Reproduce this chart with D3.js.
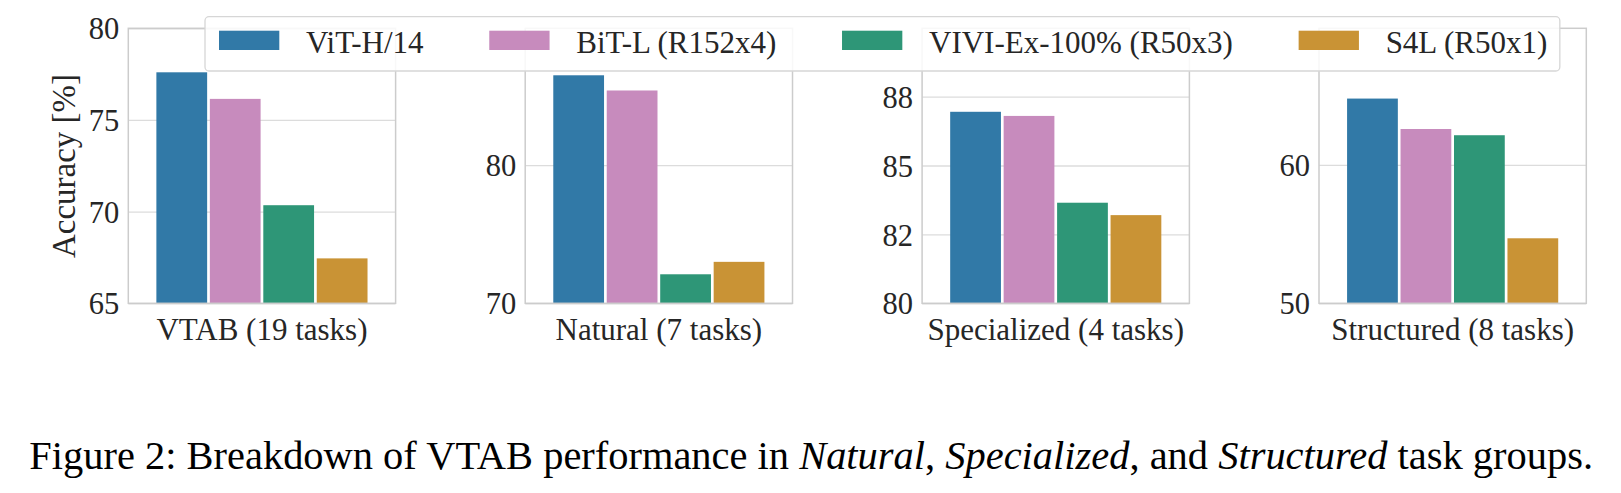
<!DOCTYPE html>
<html>
<head>
<meta charset="utf-8">
<script src="https://cdn.jsdelivr.net/npm/d3@7"></script>
<style>
  html, body { margin: 0; padding: 0; background: #fff; }
  svg { display: block; }
</style>
</head>
<body>
<svg id="chart" width="1621" height="493"></svg>
<script>
// ---- data ----
const categories = ["VTAB (19 tasks)", "Natural (7 tasks)", "Specialized (4 tasks)", "Structured (8 tasks)"];
const models = ["ViT-H/14", "BiT-L (R152x4)", "VIVI-Ex-100% (R50x3)", "S4L (R50x1)"];
const vitH14   = [77.6, 86.5, 86.95, 64.8];
const bitL     = [76.15, 85.4, 86.8, 62.6];
const viviEx   = [70.35, 72.1, 83.65, 62.15];
const s4l      = [67.45, 73.0, 83.2, 54.7];
const seriesValues = [vitH14, bitL, viviEx, s4l];
const yDomains = [[65, 80], [70, 89.9], [80, 89.98], [50, 69.88]];
const yTicks = [[65, 70, 75, 80], [70, 80], [80, 82.5, 85, 87.5], [50, 60]];
const yTickLabels = [["65", "70", "75", "80"], ["70", "80"], ["80", "82", "85", "88"], ["50", "60"]];
const colors = ["#3179a7", "#c78bbd", "#2e9677", "#c99335"];
const yLabel = "Accuracy [%]";

// ---- layout ----
const FONT = "'Liberation Serif', 'Times New Roman', serif";
const svg = d3.select("#chart");
const panelLeft = 128.3, panelStep = 396.9, panelW = 267.3;
const plotTop = 28.3, plotBottom = 303.3;
const textColor = "#262626";
const fs = 31;

categories.forEach((cat, i) => {
  const left = panelLeft + i * panelStep;
  const g = svg.append("g");
  const y = d3.scaleLinear().domain(yDomains[i]).range([plotBottom, plotTop]);
  const x = d3.scaleBand().domain(models).range([left + 0.1 * panelW, left + 0.9 * panelW]).padding(0);

  const axis = d3.axisLeft(y).tickValues(yTicks[i])
    .tickFormat((d, k) => yTickLabels[i][k])
    .tickSizeInner(-panelW).tickSizeOuter(0).tickPadding(9);
  const ag = g.append("g").attr("transform", `translate(${left},0)`).call(axis);
  ag.select(".domain").remove();
  ag.selectAll(".tick line").attr("stroke", "#dcdcdc").attr("stroke-width", 1.3);
  ag.selectAll(".tick text").attr("fill", textColor)
    .style("font-family", FONT).style("font-size", "30.5px").attr("dy", "0.35em");

  const gap = 1.35;
  g.selectAll("rect.bar").data(models).join("rect")
    .attr("class", "bar")
    .attr("x", (m) => x(m) + gap)
    .attr("width", x.bandwidth() - 2 * gap)
    .attr("y", (m, j) => y(seriesValues[j][i]))
    .attr("height", (m, j) => plotBottom - y(seriesValues[j][i]))
    .attr("fill", (m, j) => colors[j]);

  g.append("rect").attr("x", left).attr("y", plotTop).attr("width", panelW).attr("height", plotBottom - plotTop)
    .attr("fill", "none").attr("stroke", "#cccccc").attr("stroke-width", 1.5);

  g.append("text").attr("x", left + panelW / 2).attr("y", 340)
    .style("font-family", FONT).style("font-size", fs + "px")
    .attr("text-anchor", "middle").attr("fill", textColor).text(cat);
});

svg.append("text").attr("transform", "translate(75,166) rotate(-90)")
  .style("font-family", FONT).style("font-size", "33px")
  .attr("text-anchor", "middle").attr("fill", textColor).text(yLabel);

// legend
const lg = svg.append("g");
const legendBox = lg.append("rect").attr("x", 205).attr("y", 16.7).attr("height", 54.3)
  .attr("rx", 4).attr("fill", "#fff").attr("fill-opacity", 0.85)
  .attr("stroke", "#d6d6d6").attr("stroke-width", 1.3);
let lx = 219;
models.forEach((m, j) => {
  lg.append("rect").attr("x", lx).attr("y", 30.7).attr("width", 60.3).attr("height", 19.3).attr("fill", colors[j]);
  const t = lg.append("text").attr("x", lx + 87).attr("y", 52.7)
    .style("font-family", FONT).style("font-size", fs + "px")
    .attr("fill", textColor).text(m);
  const w = t.node().getComputedTextLength();
  lx = lx + 87 + w + (j < models.length - 1 ? 65.7 : 12.6);
});
legendBox.attr("width", lx - 205);

// caption
const cap = svg.append("text").style("font-family", FONT).style("font-size", "41px").attr("fill", "#000");
[["Figure 2: Breakdown of VTAB performance in ", false], ["Natural", true], [", ", false],
 ["Specialized", true], [", and ", false], ["Structured", true], [" task groups.", false]]
  .forEach(([s, it]) => cap.append("tspan").style("font-style", it ? "italic" : "normal").text(s));
const cw = cap.node().getComputedTextLength();
cap.attr("transform", `translate(29.3,469.3) scale(${1564 / cw},1)`);
</script>
</body>
</html>
